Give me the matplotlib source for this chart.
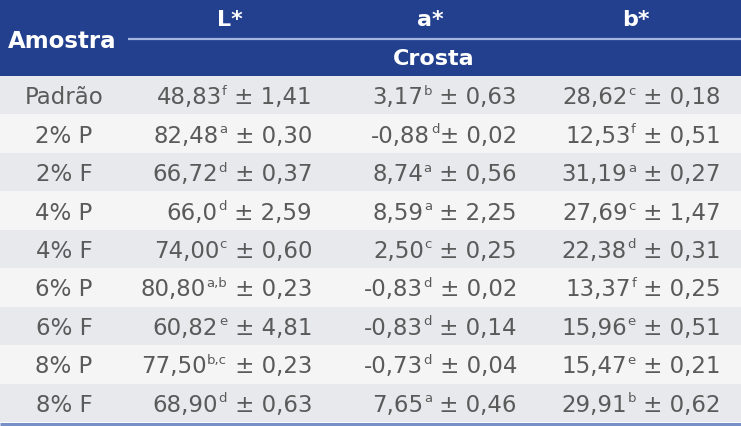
import matplotlib
matplotlib.use('Agg')
import matplotlib.pyplot as plt
from matplotlib.patches import Rectangle

samples = ["Padrão", "2% P", "2% F", "4% P", "4% F", "6% P", "6% F", "8% P", "8% F"]
L_mean = ["48,83", "82,48", "66,72", "66,0", "74,00", "80,80", "60,82", "77,50", "68,90"]
L_sup = ["f", "a", "d", "d", "c", "a,b", "e", "b,c", "d"]
L_sd = ["1,41", "0,30", "0,37", "2,59", "0,60", "0,23", "4,81", "0,23", "0,63"]
a_mean = ["3,17", "-0,88", "8,74", "8,59", "2,50", "-0,83", "-0,83", "-0,73", "7,65"]
a_sup = ["b", "d", "a", "a", "c", "d", "d", "d", "a"]
a_sd = ["0,63", "0,02", "0,56", "2,25", "0,25", "0,02", "0,14", "0,04", "0,46"]
b_mean = ["28,62", "12,53", "31,19", "27,69", "22,38", "13,37", "15,96", "15,47", "29,91"]
b_sup = ["c", "f", "a", "c", "d", "f", "e", "e", "b"]
b_sd = ["0,18", "0,51", "0,27", "1,47", "0,31", "0,25", "0,51", "0,21", "0,62"]
# rows where there is no space between superscript and "±"
tight = {("a", 1)}

col_headers = ["L*", "a*", "b*"]
sub_header = "Crosta"
first_header = "Amostra"

W, H = 741, 427
fig = plt.figure(figsize=(W / 100, H / 100), dpi=100)
ax = fig.add_axes([0, 0, 1, 1])
ax.set_xlim(0, W)
ax.set_ylim(H, 0)
ax.axis('off')

FONT = 'DejaVu Sans'
TXT = '#5a5a5a'
BLUE = '#23408E'
header_h = 77
row_h = (423 - header_h) / len(samples)

ax.add_patch(Rectangle((0, 0), W, header_h, color=BLUE, lw=0))
ax.plot([128, W], [40, 40], color='#A5B7E0', lw=1.6, solid_capstyle='butt')
for i in range(len(samples)):
    ax.add_patch(Rectangle((0, header_h + i * row_h), W, row_h,
                           color='#E8E9EC' if i % 2 == 0 else '#F5F5F6', lw=0))
ax.plot([0, W], [424.5, 424.5], color='#7790C8', lw=2.2, solid_capstyle='butt')

# headers
ax.text(62, 42, first_header, ha='center', va='center', color='white',
        fontsize=16.5, fontweight='bold', family=FONT)
for x, t in zip([230, 430, 636], col_headers):
    ax.text(x, 20, t, ha='center', va='center', color='white',
            fontsize=16, fontweight='bold', family=FONT)
ax.text(434, 59, sub_header, ha='center', va='center', color='white',
        fontsize=16, fontweight='bold', family=FONT)

renderer = fig.canvas.get_renderer()
inv = ax.transData.inverted()

def left_edge(t):
    bb = t.get_window_extent(renderer)
    return inv.transform((bb.x0, bb.y0))[0]

FS = 16.5
cols = [("L", L_mean, L_sup, L_sd, 312), ("a", a_mean, a_sup, a_sd, 517), ("b", b_mean, b_sup, b_sd, 721)]
for i, s in enumerate(samples):
    yc = header_h + (i + 0.5) * row_h
    yb = yc + 8
    ax.text(64, yb, s, ha='center', va='baseline', color=TXT, fontsize=FS, family=FONT)
    for key, means, sups, sds, xr in cols:
        sd_txt = ("± " if (key, i) in tight else " ± ") + sds[i]
        t1 = ax.text(xr, yb, sd_txt, ha='right', va='baseline', color=TXT, fontsize=FS, family=FONT)
        x1 = left_edge(t1)
        t2 = ax.text(x1 - 0.5, yb - 9.5, sups[i], ha='right', va='baseline', color=TXT, fontsize=9.5, family=FONT)
        x2 = left_edge(t2)
        ax.text(x2 - 0.5, yb, means[i], ha='right', va='baseline', color=TXT, fontsize=FS, family=FONT)

fig.savefig('out.png', dpi=100)
